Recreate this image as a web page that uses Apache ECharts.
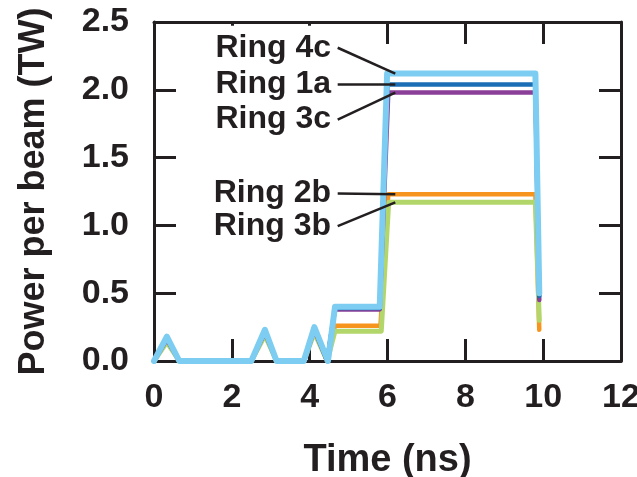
<!DOCTYPE html>
<html>
<head>
<meta charset="utf-8">
<script src="https://cdn.jsdelivr.net/npm/echarts@6/dist/echarts.min.js"></script>
<style>
html,body{margin:0;padding:0;background:#fff;}
#chart{width:637px;height:477px;}
</style>
</head>
<body>
<div id="chart"></div>
<script>
// ---- data ----
const xTicks = [0, 2, 4, 6, 8, 10, 12];
const yTicks = [0.0, 0.5, 1.0, 1.5, 2.0, 2.5];

const seriesNames = ['Ring 2b', 'Ring 3b', 'Ring 3c', 'Ring 1a', 'Ring 4c'];
const seriesColors = ['#f7941d', '#b3d66b', '#8b3f98', '#1b6db5', '#7dcdf2'];
const seriesWidths = [4.5, 5, 4.5, 4.5, 6];

const times2b = [0, 0.33, 0.65, 2.5, 2.85, 3.15, 3.85, 4.12, 4.45, 4.65, 5.82, 6.02, 9.8, 9.9];
const power2b = [0, 0.15, 0, 0, 0.2, 0, 0, 0.22, 0, 0.26, 0.26, 1.23, 1.23, 0.23];

const times3b = [0, 0.33, 0.65, 2.5, 2.85, 3.15, 3.85, 4.12, 4.45, 4.65, 5.84, 6.03, 9.8, 9.9];
const power3b = [0, 0.14, 0, 0, 0.19, 0, 0, 0.21, 0, 0.22, 0.22, 1.17, 1.17, 0.30];

const times3c = [0, 0.33, 0.65, 2.5, 2.85, 3.15, 3.85, 4.12, 4.45, 4.65, 5.8, 6.02, 9.8, 9.9];
const power3c = [0, 0.16, 0, 0, 0.21, 0, 0, 0.23, 0, 0.38, 0.38, 1.98, 1.98, 0.45];

const times1a = [0, 0.33, 0.65, 2.5, 2.85, 3.15, 3.85, 4.12, 4.45, 4.65, 5.8, 6.0, 9.8, 9.9];
const power1a = [0, 0.17, 0, 0, 0.22, 0, 0, 0.24, 0, 0.39, 0.39, 2.04, 2.04, 0.48];

const times4c = [0, 0.33, 0.65, 2.5, 2.85, 3.15, 3.85, 4.12, 4.47, 4.65, 5.8, 5.99, 9.8, 9.9];
const power4c = [0, 0.18, 0, 0, 0.23, 0, 0, 0.25, 0, 0.40, 0.40, 2.12, 2.12, 0.50];

// annotation labels: text, label level (TW), leader target level (TW)
const labelTexts = ['Ring 4c', 'Ring 1a', 'Ring 3c', 'Ring 2b', 'Ring 3b'];
const labelLevels = [2.31, 2.04, 1.78, 1.235, 0.995];
const targetLevels = [2.12, 2.04, 1.98, 1.23, 1.17];
const labelTextTime = 4.6;
const leaderStartTime = 4.72;
const leaderEndTime = 6.2;

// ---- chart ----
const ink = '#231f20';
const fam = '"Liberation Sans", Arial, Helvetica, sans-serif';
const chart = echarts.init(document.getElementById('chart'), null, {renderer: 'canvas'});

const allTimes = [times2b, times3b, times3c, times1a, times4c];
const allPowers = [power2b, power3b, power3c, power1a, power4c];

const series = seriesNames.map((n, i) => ({
  name: n,
  type: 'line',
  xAxisIndex: 0,
  yAxisIndex: 0,
  showSymbol: false,
  symbol: 'none',
  z: 2 + i,
  lineStyle: {color: seriesColors[i], width: seriesWidths[i], cap: 'round', join: 'round'},
  data: allTimes[i].map((t, k) => [t, allPowers[i][k]])
}));

const axisLineStyle = {color: ink, width: 3};
const tickStyle = {inside: true, length: 22, lineStyle: {color: ink, width: 3}};

const option = {
  animation: false,
  backgroundColor: '#fff',
  grid: {left: 154, right: 16, top: 22, bottom: 116, containLabel: false, outerBoundsMode: 'none'},
  xAxis: [
    {
      type: 'value', min: xTicks[0], max: xTicks[xTicks.length - 1], interval: 2,
      position: 'bottom',
      axisLine: {show: true, onZero: false, lineStyle: axisLineStyle},
      axisTick: tickStyle,
      splitLine: {show: false},
      axisLabel: {fontSize: 34, fontWeight: 'bold', color: ink, fontFamily: fam, margin: 20,
        formatter: v => String(v)},
      name: 'Time (ns)', nameLocation: 'middle', nameGap: 81,
      nameTextStyle: {fontSize: 38, fontWeight: 'bold', color: ink, fontFamily: fam}
    },
    {
      type: 'value', min: xTicks[0], max: xTicks[xTicks.length - 1], interval: 2,
      position: 'top',
      axisLine: {show: true, onZero: false, lineStyle: axisLineStyle},
      axisTick: tickStyle,
      splitLine: {show: false},
      axisLabel: {show: false}
    }
  ],
  yAxis: [
    {
      type: 'value', min: yTicks[0], max: yTicks[yTicks.length - 1], interval: 0.5,
      position: 'left',
      axisLine: {show: true, onZero: false, lineStyle: axisLineStyle},
      axisTick: tickStyle,
      splitLine: {show: false},
      axisLabel: {fontSize: 34, fontWeight: 'bold', color: ink, fontFamily: fam, margin: 25,
        formatter: v => v.toFixed(1)},
      name: 'Power per beam (TW)', nameLocation: 'middle', nameGap: 102, nameRotate: 90,
      nameTextStyle: {fontSize: 36, fontWeight: 'bold', color: ink, fontFamily: fam}
    },
    {
      type: 'value', min: yTicks[0], max: yTicks[yTicks.length - 1], interval: 0.5,
      position: 'right',
      axisLine: {show: true, onZero: false, lineStyle: axisLineStyle},
      axisTick: tickStyle,
      splitLine: {show: false},
      axisLabel: {show: false}
    }
  ],
  series: series
};

chart.setOption(option);

// annotations placed through the chart's own coordinate system
const graphics = [];
labelTexts.forEach((txt, i) => {
  const pText = chart.convertToPixel({gridIndex: 0}, [labelTextTime, labelLevels[i]]);
  const pStart = chart.convertToPixel({gridIndex: 0}, [leaderStartTime, labelLevels[i]]);
  const pEnd = chart.convertToPixel({gridIndex: 0}, [leaderEndTime, targetLevels[i]]);
  graphics.push({
    type: 'line', z: 100,
    shape: {x1: pStart[0], y1: pStart[1], x2: pEnd[0], y2: pEnd[1]},
    style: {stroke: ink, lineWidth: 2.5}
  });
  const pad = i === 0 ? [6, 2, 6, 2] : [0, 2];
  graphics.push({
    type: 'text', z: 101 + i, x: pText[0], y: pText[1],
    style: {
      text: txt, fill: ink, font: 'bold 32px ' + fam,
      align: 'right', verticalAlign: 'middle',
      textAlign: 'right', textVerticalAlign: 'middle',
      backgroundColor: '#fff', padding: pad
    }
  });
});
chart.setOption({graphic: graphics});
</script>
</body>
</html>
